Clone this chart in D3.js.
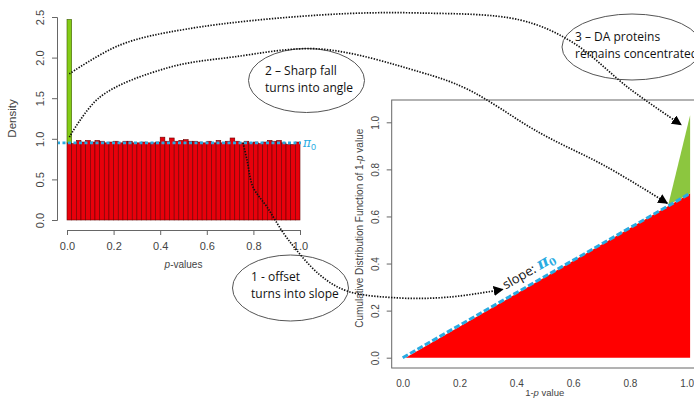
<!DOCTYPE html>
<html>
<head>
<meta charset="utf-8">
<script src="https://cdn.jsdelivr.net/npm/d3@7"></script>
<style>
  body { margin: 0; background: #fff; }
  svg { display: block; }
</style>
</head>
<body>
<svg id="chart" width="694" height="399"></svg>
<script>
// histogram of p-values: 50 bins of width 0.02
const binHeights = [0.95, 0.94, 0.98, 0.96, 0.98, 0.96, 0.98, 0.97, 0.95, 0.96,
  0.97, 0.95, 0.97, 0.97, 0.95, 0.95, 0.96, 0.95, 0.95, 0.96,
  1.02, 0.97, 1.01, 0.97, 0.98, 0.99, 0.97, 0.97, 0.96, 0.95,
  0.97, 0.95, 0.98, 0.95, 0.97, 1.01, 0.97, 0.95, 0.97, 0.95,
  0.96, 0.94, 0.96, 0.98, 0.97, 0.98, 0.95, 0.93, 0.93, 0.96];
const binWidth = 0.02;
const daBinTop = 2.47;       // green excess in the first bin
const pi0 = 0.95;
const histYTicks = [0, 0.5, 1, 1.5, 2, 2.5];
const histXTicks = [0, 0.2, 0.4, 0.6, 0.8, 1];

// cumulative distribution of 1-p
const cdfX = [0.01, 1.012];
const cdfY = [0, 0.698];
const daStart = [0.935, 0.649];
const daTop = 1.03;
const cdfTicks = [0, 0.2, 0.4, 0.6, 0.8, 1];

const svg = d3.select('#chart');
const axisCol = '#666';
const labelCol = '#444';
const cyan = '#29abe2';

// ---------- left: histogram ----------
const xL = d3.scaleLinear().domain([0, 1]).range([67, 300]);
const yL = d3.scaleLinear().domain([0, 2.5]).range([220, 17]);

const hist = svg.append('g');
hist.selectAll('rect.bin')
  .data(binHeights)
  .enter()
  .append('rect')
  .attr('class', 'bin')
  .attr('x', (d, i) => xL(i * binWidth))
  .attr('y', d => yL(d))
  .attr('width', xL(binWidth) - xL(0))
  .attr('height', d => yL(0) - yL(d))
  .attr('fill', '#e8000b')
  .attr('stroke', '#6a0000')
  .attr('stroke-width', 0.6);

hist.append('rect')
  .attr('x', xL(0))
  .attr('y', yL(daBinTop))
  .attr('width', xL(binWidth) - xL(0))
  .attr('height', yL(binHeights[0]) - yL(daBinTop))
  .attr('fill', '#84cc16')
  .attr('stroke', '#3d5a00')
  .attr('stroke-width', 0.6);

hist.append('line')
  .attr('x1', 57).attr('x2', xL(1) + 1)
  .attr('y1', yL(pi0)).attr('y2', yL(pi0))
  .attr('stroke', cyan).attr('stroke-width', 2.6)
  .attr('stroke-dasharray', '3,2.5');

hist.append('text')
  .attr('x', xL(1) + 3).attr('y', yL(pi0) + 4)
  .attr('fill', cyan)
  .attr('font-family', 'DejaVu Serif')
  .attr('font-style', 'italic')
  .attr('font-size', 12)
  .html('π<tspan font-size="9" dy="3" font-style="normal" font-family="Liberation Sans">0</tspan>');

function styleAxis(g) {
  g.select('.domain').attr('stroke', axisCol);
  g.selectAll('.tick line').attr('stroke', axisCol);
  g.selectAll('.tick text')
    .attr('fill', labelCol)
    .attr('font-family', 'Liberation Sans, Arial, sans-serif')
    .attr('font-size', 11);
}

const yAxisL = hist.append('g')
  .attr('transform', 'translate(57,0)')
  .call(d3.axisLeft(yL).tickValues(histYTicks).tickFormat(d3.format('.1f')).tickSizeOuter(0).tickSize(5));
styleAxis(yAxisL);
yAxisL.selectAll('.tick text')
  .attr('x', 0).attr('dy', 0)
  .attr('text-anchor', 'middle')
  .attr('transform', 'translate(-13,0) rotate(-90)');

const xAxisL = hist.append('g')
  .attr('transform', 'translate(0,230)')
  .call(d3.axisBottom(xL).tickValues(histXTicks).tickFormat(d3.format('.1f')).tickSizeOuter(0).tickSize(5));
styleAxis(xAxisL);
xAxisL.selectAll('.tick text').attr('y', 12);

hist.append('text')
  .attr('transform', 'translate(16,' + yL(1.25) + ') rotate(-90)')
  .attr('text-anchor', 'middle')
  .attr('fill', labelCol)
  .attr('font-family', 'Liberation Sans, Arial, sans-serif')
  .attr('font-size', 11.5)
  .text('Density');

hist.append('text')
  .attr('x', xL(0.5)).attr('y', 268)
  .attr('text-anchor', 'middle')
  .attr('fill', labelCol)
  .attr('font-family', 'Liberation Sans, Arial, sans-serif')
  .attr('font-size', 10)
  .html('<tspan font-style="italic">p</tspan>-values');

// ---------- right: cumulative distribution ----------
const xR = d3.scaleLinear().domain([0, 1]).range([402.7, 686.7]);
const yR = d3.scaleLinear().domain([0, 1]).range([357.7, 122.3]);

const cdf = svg.append('g');
cdf.append('rect')
  .attr('x', 391.7).attr('y', 100)
  .attr('width', 320).attr('height', 268)
  .attr('fill', 'none').attr('stroke', axisCol).attr('stroke-width', 1);

const redPts = [[cdfX[0], cdfY[0]], [cdfX[1], cdfY[1]], [cdfX[1], 0]];
const greenPts = [daStart, [cdfX[1], daTop], [cdfX[1], cdfY[1]]];
const poly = d3.line().x(d => xR(d[0])).y(d => yR(d[1]));

cdf.append('path').attr('d', poly(redPts) + 'Z').attr('fill', '#ff0000');
cdf.append('path').attr('d', poly(greenPts) + 'Z').attr('fill', '#8cc63f');

cdf.append('path')
  .attr('d', poly([[0, 0], [cdfX[1], cdfY[1]]]))
  .attr('stroke', cyan).attr('stroke-width', 3)
  .attr('stroke-dasharray', '6,2.5')
  .attr('fill', 'none');

const yAxisR = cdf.append('g')
  .attr('transform', 'translate(391.7,0)')
  .call(d3.axisLeft(yR).tickValues(cdfTicks).tickFormat(d3.format('.1f')).tickSizeOuter(0).tickSize(5));
styleAxis(yAxisR);
yAxisR.select('.domain').remove();
yAxisR.selectAll('.tick text')
  .attr('x', 0).attr('dy', 0)
  .attr('text-anchor', 'middle')
  .attr('font-size', 10)
  .attr('transform', 'translate(-13,0) rotate(-90)');

const xAxisR = cdf.append('g')
  .attr('transform', 'translate(0,368)')
  .call(d3.axisBottom(xR).tickValues(cdfTicks).tickFormat(d3.format('.1f')).tickSizeOuter(0).tickSize(0));
styleAxis(xAxisR);
xAxisR.select('.domain').remove();
xAxisR.selectAll('.tick text').attr('y', 12).attr('font-size', 10);

cdf.append('text')
  .attr('transform', 'translate(363,' + yR(0.55) + ') rotate(-90)')
  .attr('text-anchor', 'middle')
  .attr('fill', labelCol)
  .attr('font-family', 'Liberation Sans, Arial, sans-serif')
  .attr('font-size', 10)
  .html('Cumulative Distribution Function of 1-<tspan font-style="italic">p</tspan> value');

// axis title sits right at the bottom edge, as in the original
cdf.append('text')
  .attr('x', xR(0.5)).attr('y', 396)
  .attr('text-anchor', 'middle')
  .attr('fill', labelCol)
  .attr('font-family', 'Liberation Sans, Arial, sans-serif')
  .attr('font-size', 9.5)
  .html('1-<tspan font-style="italic">p</tspan> value');

// slope label along the line
const ang = Math.atan2(yR(cdfY[1]) - yR(0), xR(cdfX[1]) - xR(0)) * 180 / Math.PI;
cdf.append('text')
  .attr('transform', 'translate(' + xR(0.363) + ',' + (yR(0.247) - 10) + ') rotate(' + ang + ')')
  .attr('font-family', 'Open Sans, sans-serif')
  .attr('font-size', 13)
  .attr('fill', '#111')
  .html('slope: <tspan fill="' + cyan + '" font-weight="bold" font-family="DejaVu Serif" font-style="italic" font-size="16">π<tspan font-size="10" dy="3" font-style="normal">0</tspan></tspan>');

// ---------- annotations ----------
const ann = svg.append('g');
ann.append('defs').append('marker')
  .attr('id', 'head')
  .attr('viewBox', '0 0 10 10')
  .attr('refX', 9).attr('refY', 5)
  .attr('markerWidth', 10).attr('markerHeight', 10)
  .attr('markerUnits', 'userSpaceOnUse')
  .attr('orient', 'auto')
  .append('path').attr('d', 'M0,0 L10,5 L0,10 Z').attr('fill', '#000');

const ellipses = [
  { cx: 290.5, cy: 288, rx: 58, ry: 33, tx: 251, ty: 281, lines: ['1 - offset', 'turns into slope'] },
  { cx: 306.5, cy: 80.5, rx: 58, ry: 32, tx: 265, ty: 75, lines: ['2 \u2013 Sharp fall', 'turns into angle'] },
  { cx: 632, cy: 47, rx: 70, ry: 33, tx: 575, ty: 41, lines: ['3 \u2013 DA proteins', 'remains concentrated'] }
];
ellipses.forEach(e => {
  ann.append('ellipse')
    .attr('cx', e.cx).attr('cy', e.cy).attr('rx', e.rx).attr('ry', e.ry)
    .attr('fill', 'none').attr('stroke', '#555').attr('stroke-width', 1);
  const t = ann.append('text')
    .attr('font-family', 'Open Sans, sans-serif')
    .attr('font-size', 12)
    .attr('fill', '#111');
  e.lines.forEach((l, i) => {
    t.append('tspan').attr('x', e.tx).attr('y', e.ty + i * 16.5).text(l);
  });
});

const curve = d3.line().curve(d3.curveCatmullRom);
const arrows = [
  [[xL(0.01), yL(1.8)], [120, 45], [187, 29], [320, 15], [420, 13], [520, 20], [572, 42], [630, 89], [xR(0.98), yR(0.99)]],
  [[xL(0.01), yL(1.02)], [100, 97], [167, 68], [233, 57], [320, 49], [420, 72], [467, 89], [540, 133], [607, 167], [xR(0.935) - 1, yR(0.656)]],
  [[243, yL(0.95)], [247, 160], [253, 187], [267, 207], [287, 238], [320, 275], [347, 291], [400, 298], [450, 297], [xR(0.352), yR(0.29)]]
];
arrows.forEach(pts => {
  ann.append('path')
    .attr('d', curve(pts))
    .attr('fill', 'none')
    .attr('stroke', '#111')
    .attr('stroke-width', 1.7)
    .attr('stroke-dasharray', '1.4,1.4')
    .attr('marker-end', 'url(#head)');
});
</script>
</body>
</html>
